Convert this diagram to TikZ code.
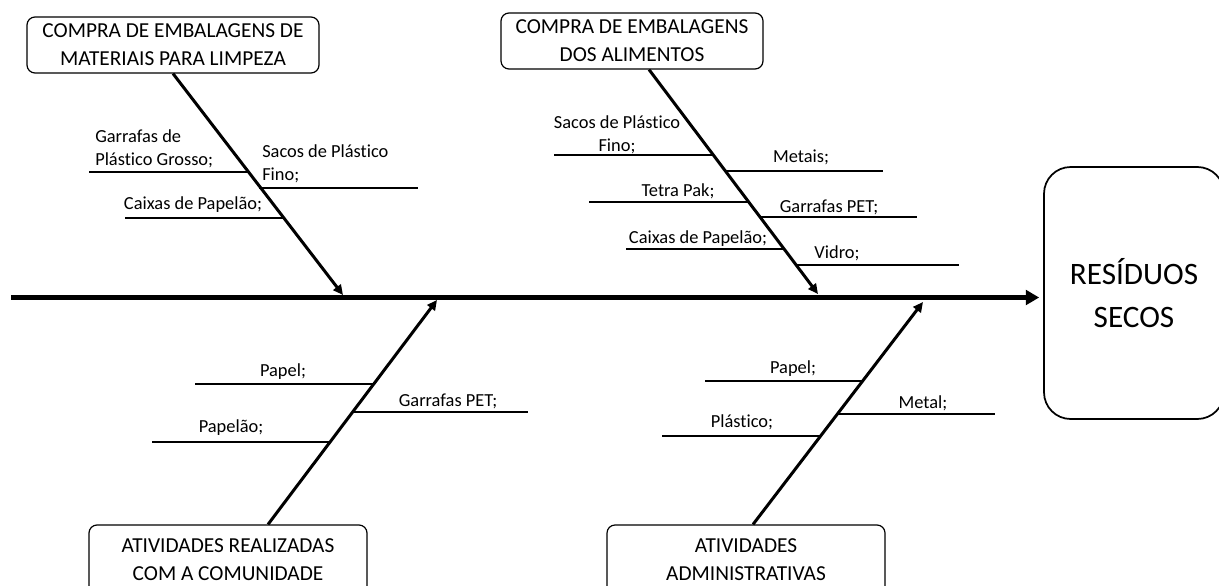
\documentclass[tikz,border=0pt]{standalone}
\usepackage{fontspec}
\setmainfont{Carlito}[Ligatures=NoCommon]
\usetikzlibrary{arrows.meta}

\begin{document}
\begin{tikzpicture}[x=0.75pt, y=-0.75pt,
    causa/.style={draw, rectangle, rounded corners=6pt, line width=0.9pt, align=center, inner sep=0pt, minimum width=208.5pt, minimum height=52.5pt, font=\fontsize{16}{21}\selectfont},
    item/.style={inner sep=0pt, anchor=base, font=\fontsize{13.8}{17}\selectfont},
    bone/.style={line width=2.25pt, -{Triangle[length=7.5pt,width=7pt]}},
    twig/.style={line width=1.5pt},
    spine/.style={line width=3.4pt, -{Triangle[length=10pt,width=11pt]}}]
    \useasboundingbox (0,0) rectangle (1219,585);

    % efeito
    \node (res) [draw, rectangle, rounded corners=20pt, line width=1.3pt, align=center, minimum width=135pt, minimum height=189pt, font=\fontsize{23.4}{32.3}\selectfont] at (1134,293) {RESÍDUOS\\SECOS};

    % causas
    \node (limp) [causa, minimum width=219pt, minimum height=42pt] at (173,45) {COMPRA DE EMBALAGENS DE\\MATERIAIS PARA LIMPEZA};
    \node (alim) [causa, minimum width=196.5pt, minimum height=42pt] at (632,41) {COMPRA DE EMBALAGENS\\DOS ALIMENTOS};
    \node (comu) [causa] at (228,560) {ATIVIDADES REALIZADAS\\COM A COMUNIDADE};
    \node (adm) [causa] at (746,560) {ATIVIDADES\\ADMINISTRATIVAS};

    % espinha
    \coordinate (tail) at (11,297.5);
    \draw[spine] (tail) -- ([xshift=-3pt]tail -| res.west);

    \coordinate (t1) at (343,295);
    \coordinate (t2) at (818,294);
    \coordinate (t3) at (437,300);
    \coordinate (t4) at (923,302);
    \draw[bone] (limp.south) -- (t1);
    \draw[bone] ([xshift=12.75pt]alim.south) -- (t2);
    \draw[bone] ([xshift=30pt]comu.north) -- (t3);
    \draw[bone] ([xshift=5.25pt]adm.north) -- (t4);

    % limpeza
    \draw[twig] (89,172) -- (249,172);
    \draw[twig] (259,188) -- (418,188);
    \draw[twig] (125,218) -- (283,218);
    \node (l1) [item, align=left, anchor=south west] at (95,168) {Garrafas de\\Plástico Grosso;};
    \node (l2) [item, align=left, anchor=south west] at (262,183) {Sacos de Plástico\\Fino;};
    \node (l3) [item] at (193,209) {Caixas de Papelão;};

    % alimentos
    \draw[twig] (554,155) -- (713,155);
    \draw[twig] (725,171) -- (883,171);
    \draw[twig] (589,202) -- (749,202);
    \draw[twig] (760,217) -- (917,217);
    \draw[twig] (626,249) -- (785,249);
    \draw[twig] (797,265) -- (959,265);
    \node (a1) [item, align=center, anchor=south] at (617,154) {Sacos de Plástico\\Fino;};
    \node (a2) [item] at (801,162) {Metais;};
    \node (a3) [item] at (678,196) {Tetra Pak;};
    \node (a4) [item] at (829,212) {Garrafas PET;};
    \node (a5) [item] at (698,243) {Caixas de Papelão;};
    \node (a6) [item] at (837,258) {Vidro;};

    % comunidade
    \draw[twig] (195,384) -- (373,384);
    \draw[twig] (352,412) -- (528,412);
    \draw[twig] (152,442) -- (329,442);
    \node (c1) [item] at (283,376) {Papel;};
    \node (c2) [item] at (448,406) {Garrafas PET;};
    \node (c3) [item] at (231,432) {Papelão;};

    % administrativas
    \draw[twig] (705,381) -- (863,381);
    \draw[twig] (838,414) -- (995,414);
    \draw[twig] (662,436) -- (821,436);
    \node (d1) [item] at (793,373) {Papel;};
    \node (d2) [item] at (923,408) {Metal;};
    \node (d3) [item] at (742,427) {Plástico;};

\end{tikzpicture}
\end{document}
